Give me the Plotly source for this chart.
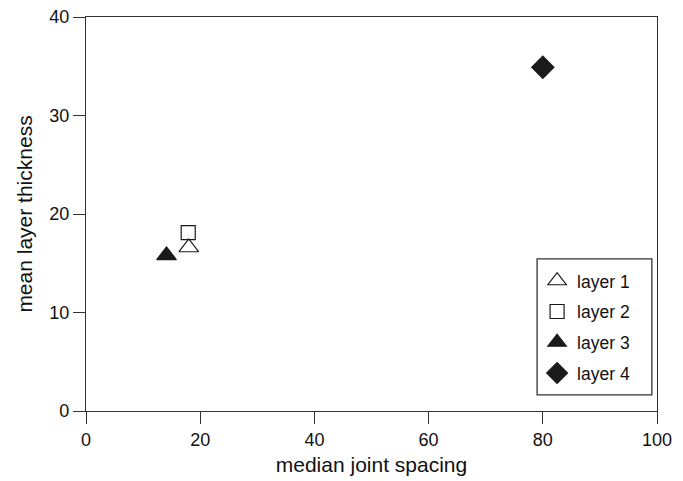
import plotly.graph_objects as go

# median joint spacing vs. mean layer thickness for each layer
layers = ["layer 1", "layer 2", "layer 3", "layer 4"]
joint_spacing = [18.0, 17.9, 14.1, 80.0]
layer_thickness = [16.6, 18.1, 15.8, 34.9]
symbols = ["triangle-up-open", "square-open", "triangle-up", "diamond"]
sizes = [17, 14, 17, 17]

x_ticks = [0, 20, 40, 60, 80, 100]
y_ticks = [0, 10, 20, 30, 40]

fig = go.Figure()
for i, name in enumerate(layers):
    fig.add_trace(go.Scatter(
        x=[joint_spacing[i]], y=[layer_thickness[i]],
        mode="markers", name=name, legendgroup=name,
        marker=dict(symbol=symbols[i], size=sizes[i], color="#1a1a1a",
                    line=dict(width=1.2, color="#1a1a1a")),
    ))

axis_style = dict(
    showgrid=False, zeroline=False, showline=True, mirror=True,
    linecolor="#333333", linewidth=1.3, automargin=False,
    ticks="outside", ticklen=12, tickwidth=1.3, tickcolor="#333333",
    tickfont=dict(size=18, color="#111111"),
)

# legend frame, drawn as a box so it can be a little wider than the entries
fig.add_shape(type="rect", xref="paper", yref="paper",
              x0=0.790, x1=0.991, y0=0.041, y1=0.386,
              line=dict(color="#333333", width=1.3), fillcolor="white",
              layer="below")

fig.update_layout(
    width=683, height=481,
    margin=dict(l=86, r=26, t=17, b=70),
    paper_bgcolor="white", plot_bgcolor="white",
    font=dict(family="Liberation Sans, Arial, sans-serif", color="#111111"),
    xaxis=dict(range=[0, 100], tickvals=x_ticks,
               title=dict(text="median joint spacing", font=dict(size=21), standoff=8),
               **axis_style),
    yaxis=dict(range=[0, 40], tickvals=y_ticks,
               title=dict(text="mean layer thickness", font=dict(size=21), standoff=10),
               **axis_style),
    legend=dict(x=0.790, y=0.376, xanchor="left", yanchor="top",
                bgcolor="rgba(0,0,0,0)", borderwidth=0,
                font=dict(size=17.5), tracegroupgap=5, itemsizing="trace"),
)

fig.write_html("out.html")
